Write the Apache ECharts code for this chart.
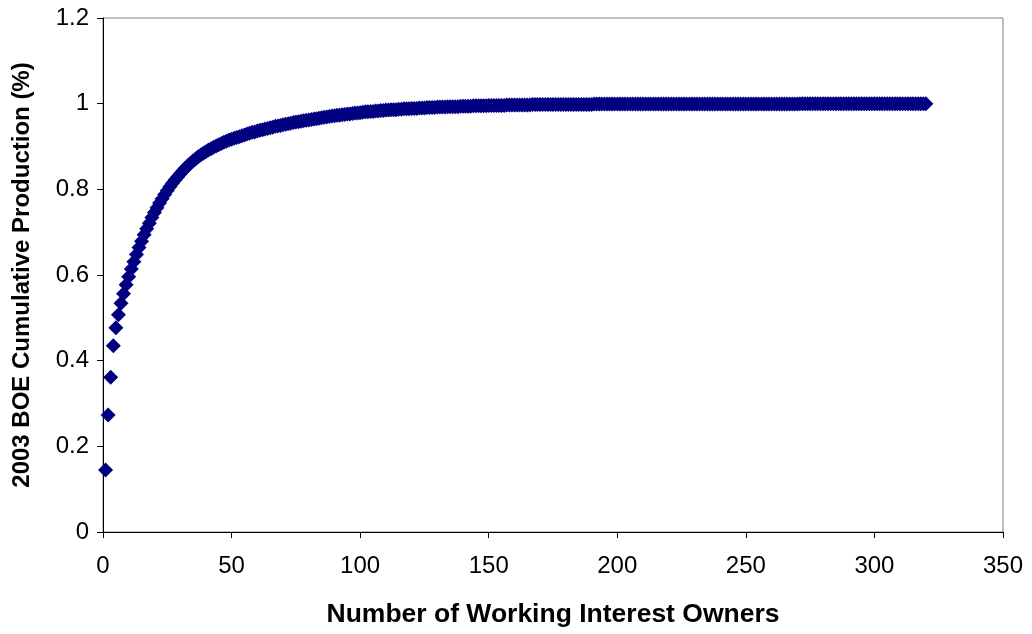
<!DOCTYPE html>
<html>
<head>
<meta charset="utf-8">
<script src="https://cdn.jsdelivr.net/npm/echarts@6/dist/echarts.min.js"></script>
<style>
  html, body { margin: 0; padding: 0; background: #ffffff; }
  #chart { width: 1032px; height: 634px; }
</style>
</head>
<body>
<div id="chart"></div>
<script>
// Cumulative share of 2003 BOE production, owner 1..320
const cumulative = [
  0.145, 0.273, 0.361, 0.435, 0.477, 0.507, 0.534, 0.556, 0.577, 0.596,
  0.614, 0.631, 0.648, 0.664, 0.679, 0.694, 0.708, 0.721, 0.734, 0.746,
  0.757, 0.768, 0.778, 0.788, 0.797, 0.806, 0.814, 0.822, 0.829, 0.836,
  0.843, 0.849, 0.855, 0.861, 0.866, 0.871, 0.876, 0.880, 0.884, 0.888,
  0.892, 0.895, 0.898, 0.901, 0.904, 0.907, 0.910, 0.912, 0.915, 0.917,
  0.919, 0.921, 0.923, 0.925, 0.927, 0.929, 0.931, 0.933, 0.934, 0.936,
  0.938, 0.939, 0.941, 0.942, 0.944, 0.945, 0.947, 0.948, 0.949, 0.951,
  0.952, 0.953, 0.954, 0.956, 0.957, 0.958, 0.959, 0.960, 0.961, 0.962,
  0.963, 0.964, 0.965, 0.966, 0.967, 0.968, 0.969, 0.970, 0.971, 0.972,
  0.973, 0.973, 0.974, 0.975, 0.976, 0.976, 0.977, 0.978, 0.978, 0.979,
  0.980, 0.981, 0.981, 0.982, 0.982, 0.983, 0.983, 0.984, 0.984, 0.985,
  0.985, 0.986, 0.986, 0.986, 0.987, 0.987, 0.988, 0.988, 0.988, 0.989,
  0.989, 0.989, 0.990, 0.990, 0.990, 0.991, 0.991, 0.991, 0.991, 0.992,
  0.992, 0.992, 0.992, 0.993, 0.993, 0.993, 0.993, 0.993, 0.994, 0.994,
  0.994, 0.994, 0.994, 0.995, 0.995, 0.995, 0.995, 0.995, 0.995, 0.996,
  0.996, 0.996, 0.996, 0.996, 0.996, 0.996, 0.997, 0.997, 0.997, 0.997,
  0.997, 0.997, 0.997, 0.997, 0.997, 0.997, 0.998, 0.998, 0.998, 0.998,
  0.998, 0.998, 0.998, 0.998, 0.998, 0.998, 0.998, 0.998, 0.998, 0.998,
  0.998, 0.998, 0.998, 0.998, 0.998, 0.998, 0.998, 0.998, 0.998, 0.998,
  0.999, 0.999, 0.999, 0.999, 0.999, 0.999, 0.999, 0.999, 0.999, 0.999,
  0.999, 0.999, 0.999, 0.999, 0.999, 0.999, 0.999, 0.999, 0.999, 0.999,
  0.999, 0.999, 0.999, 0.999, 0.999, 0.999, 0.999, 0.999, 0.999, 0.999,
  0.999, 0.999, 0.999, 0.999, 0.999, 0.999, 0.999, 0.999, 0.999, 0.999,
  0.9995, 0.9995, 0.9995, 0.9995, 0.9995, 0.9995, 0.9995, 0.9995, 0.9995, 0.9995,
  0.9995, 0.9995, 0.9995, 0.9995, 0.9995, 0.9995, 0.9995, 0.9995, 0.9995, 0.9995,
  0.9995, 0.9995, 0.9995, 0.9995, 0.9995, 0.9995, 0.9995, 0.9995, 0.9995, 0.9995,
  0.9995, 0.9995, 0.9995, 0.9995, 0.9995, 0.9995, 0.9995, 0.9995, 0.9995, 0.9995,
  1, 1, 1, 1, 1, 1, 1, 1, 1, 1,
  1, 1, 1, 1, 1, 1, 1, 1, 1, 1,
  1, 1, 1, 1, 1, 1, 1, 1, 1, 1,
  1, 1, 1, 1, 1, 1, 1, 1, 1, 1,
  1, 1, 1, 1, 1, 1, 1, 1, 1, 1
];
// owner rank for each value (1, 2, 3, ...)
const owners = cumulative.map((_, i) => i + 1);

const xTitle = 'Number of Working Interest Owners';
const yTitle = '2003 BOE Cumulative Production (%)';
const xMin = 0, xMax = 350, xStep = 50;
const yMin = 0, yMax = 1.2, yStep = 0.2;

const points = owners.map((x, i) => [x, cumulative[i]]);

const FONT = '"Liberation Sans", Arial, sans-serif';
const chart = echarts.init(document.getElementById('chart'), null, { renderer: 'canvas' });
chart.setOption({
  animation: false,
  backgroundColor: '#ffffff',
  grid: {
    left: 103, right: 29, top: 18, bottom: 102,
    show: true, borderColor: '#808080', borderWidth: 1, backgroundColor: '#ffffff'
  },
  xAxis: {
    type: 'value', min: xMin, max: xMax, interval: xStep,
    name: xTitle, nameLocation: 'middle', nameGap: 69,
    nameTextStyle: { fontFamily: FONT, fontSize: 26.5, fontWeight: 'bold', color: '#000' },
    axisLine: { show: true, onZero: false, lineStyle: { color: '#000', width: 1 } },
    axisTick: { show: true, inside: false, length: 6, lineStyle: { color: '#000' } },
    axisLabel: { fontFamily: FONT, fontSize: 24, color: '#000', margin: 22 },
    splitLine: { show: false }
  },
  yAxis: {
    type: 'value', min: yMin, max: yMax, interval: yStep,
    name: yTitle, nameLocation: 'middle', nameGap: 69, nameRotate: 90,
    nameTextStyle: { fontFamily: FONT, fontSize: 24, fontWeight: 'bold', color: '#000' },
    axisLine: { show: true, onZero: false, lineStyle: { color: '#000', width: 1 } },
    axisTick: { show: true, inside: false, length: 6, lineStyle: { color: '#000' } },
    axisLabel: { fontFamily: FONT, fontSize: 24, color: '#000', margin: 14 },
    splitLine: { show: false }
  },
  series: [{
    type: 'scatter',
    data: points,
    symbol: 'diamond',
    symbolSize: 15,
    itemStyle: { color: '#000080', opacity: 1 },
    emphasis: { disabled: true }
  }]
});
</script>
</body>
</html>
